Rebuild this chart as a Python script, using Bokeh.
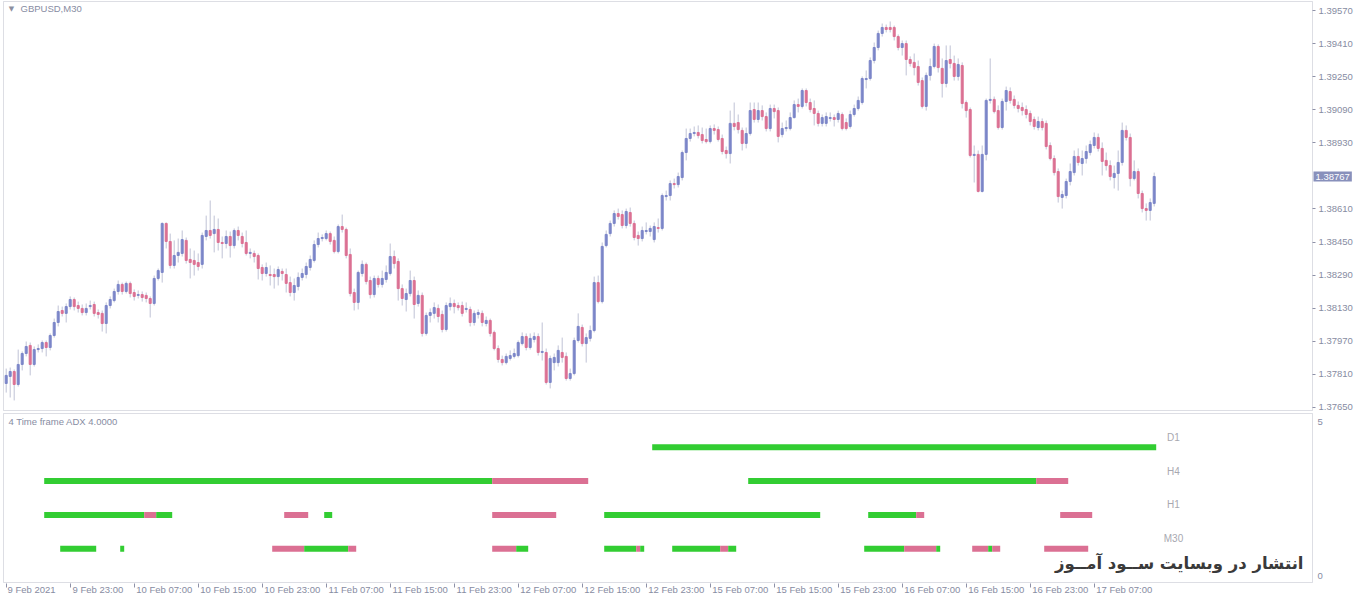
from bokeh.core.properties import value
from bokeh.embed import file_html
from bokeh.layouts import column
from bokeh.models import (BoxAnnotation, ColumnDataSource, FixedTicker, Label,
                          PrintfTickFormatter, Range1d)
from bokeh.plotting import figure
from bokeh.resources import INLINE

symbol = "GBPUSD,M30"
indicator_name = "4 Time frame ADX 4.0000"
watermark = "انتشار در وبسایت ســود آمــوز"

# M30 bars, 9 Feb 15:00 .. 17 Feb 14:30
bar_open = [
    1.37766, 1.37800, 1.37824, 1.37761, 1.37858, 1.37911, 1.37950, 1.37858, 1.37930, 1.37935, 1.37964, 1.37940,
    1.37998, 1.38061, 1.38119, 1.38105, 1.38138, 1.38172, 1.38143, 1.38129, 1.38109, 1.38138, 1.38148, 1.38109,
    1.38105, 1.38056, 1.38143, 1.38167, 1.38211, 1.38245, 1.38211, 1.38250, 1.38206, 1.38192, 1.38196, 1.38192,
    1.38177, 1.38153, 1.38274, 1.38303, 1.38540, 1.38453, 1.38337, 1.38385, 1.38395, 1.38458, 1.38366, 1.38361,
    1.38351, 1.38342, 1.38477, 1.38506, 1.38491, 1.38511, 1.38448, 1.38443, 1.38477, 1.38433, 1.38506, 1.38477,
    1.38448, 1.38395, 1.38395, 1.38385, 1.38327, 1.38298, 1.38293, 1.38293, 1.38283, 1.38308, 1.38293, 1.38254,
    1.38206, 1.38235, 1.38279, 1.38293, 1.38327, 1.38361, 1.38438, 1.38467, 1.38467, 1.38491, 1.38458, 1.38404,
    1.38525, 1.38511, 1.38390, 1.38206, 1.38158, 1.38298, 1.38342, 1.38264, 1.38196, 1.38274, 1.38245, 1.38269,
    1.38298, 1.38380, 1.38356, 1.38225, 1.38172, 1.38201, 1.38264, 1.38153, 1.38192, 1.38008, 1.38095, 1.38105,
    1.38129, 1.38100, 1.38027, 1.38138, 1.38153, 1.38143, 1.38143, 1.38124, 1.38124, 1.38061, 1.38100, 1.38105,
    1.38056, 1.38071, 1.38013, 1.37935, 1.37882, 1.37867, 1.37887, 1.37897, 1.37901, 1.37959, 1.37993, 1.37940,
    1.37979, 1.37993, 1.37916, 1.37916, 1.37771, 1.37867, 1.37867, 1.37916, 1.37897, 1.37790, 1.37814, 1.37974,
    1.38037, 1.37959, 1.37984, 1.38022, 1.38254, 1.38162, 1.38433, 1.38491, 1.38540, 1.38588, 1.38583, 1.38530,
    1.38593, 1.38540, 1.38482, 1.38467, 1.38501, 1.38501, 1.38462, 1.38520, 1.38516, 1.38670, 1.38675, 1.38733,
    1.38728, 1.38762, 1.38883, 1.38951, 1.38975, 1.38980, 1.38970, 1.38946, 1.38936, 1.38999, 1.38994, 1.38951,
    1.38893, 1.38878, 1.39024, 1.39028, 1.38990, 1.38927, 1.38975, 1.39091, 1.39043, 1.39086, 1.39057, 1.38999,
    1.39096, 1.39086, 1.38970, 1.38999, 1.38999, 1.39052, 1.39115, 1.39106, 1.39183, 1.39125, 1.39096, 1.39072,
    1.39024, 1.39024, 1.39048, 1.39052, 1.39043, 1.39067, 1.39028, 1.39009, 1.39067, 1.39096, 1.39125, 1.39236,
    1.39241, 1.39328, 1.39391, 1.39459, 1.39488, 1.39488, 1.39488, 1.39444, 1.39391, 1.39410, 1.39333, 1.39319,
    1.39299, 1.39231, 1.39106, 1.39256, 1.39299, 1.39396, 1.39290, 1.39217, 1.39333, 1.39314, 1.39251, 1.39304,
    1.39125, 1.39091, 1.38869, 1.38874, 1.38695, 1.38874, 1.39135, 1.39140, 1.39086, 1.39004, 1.39130, 1.39178,
    1.39140, 1.39111, 1.39101, 1.39091, 1.39072, 1.39043, 1.39004, 1.39033, 1.39024, 1.38917, 1.38854, 1.38791,
    1.38666, 1.38675, 1.38743, 1.38786, 1.38864, 1.38830, 1.38854, 1.38883, 1.38917, 1.38956, 1.38903, 1.38845,
    1.38820, 1.38762, 1.38782, 1.38835, 1.38990, 1.38956, 1.38757, 1.38791, 1.38685, 1.38612, 1.38603, 1.38637,
]
bar_high = [
    1.37838, 1.37843, 1.37834, 1.37930, 1.37921, 1.37969, 1.37964, 1.37945, 1.37955, 1.37974, 1.37974, 1.38008,
    1.38080, 1.38143, 1.38138, 1.38153, 1.38187, 1.38182, 1.38162, 1.38148, 1.38153, 1.38167, 1.38162, 1.38124,
    1.38119, 1.38158, 1.38187, 1.38225, 1.38264, 1.38254, 1.38259, 1.38259, 1.38221, 1.38216, 1.38211, 1.38206,
    1.38187, 1.38288, 1.38322, 1.38545, 1.38545, 1.38491, 1.38458, 1.38467, 1.38506, 1.38472, 1.38419, 1.38409,
    1.38395, 1.38496, 1.38578, 1.38651, 1.38578, 1.38564, 1.38477, 1.38506, 1.38501, 1.38516, 1.38525, 1.38496,
    1.38506, 1.38419, 1.38409, 1.38395, 1.38342, 1.38351, 1.38337, 1.38322, 1.38332, 1.38322, 1.38322, 1.38283,
    1.38274, 1.38303, 1.38322, 1.38351, 1.38385, 1.38458, 1.38496, 1.38487, 1.38506, 1.38501, 1.38477, 1.38535,
    1.38583, 1.38520, 1.38419, 1.38225, 1.38312, 1.38361, 1.38351, 1.38283, 1.38288, 1.38288, 1.38312, 1.38337,
    1.38443, 1.38409, 1.38371, 1.38245, 1.38225, 1.38312, 1.38283, 1.38216, 1.38206, 1.38109, 1.38129, 1.38158,
    1.38148, 1.38119, 1.38158, 1.38182, 1.38172, 1.38158, 1.38162, 1.38158, 1.38138, 1.38119, 1.38124, 1.38119,
    1.38090, 1.38080, 1.38022, 1.37950, 1.37901, 1.37911, 1.37926, 1.37935, 1.37974, 1.38013, 1.38008, 1.38008,
    1.38013, 1.38008, 1.38061, 1.37935, 1.37901, 1.37911, 1.37950, 1.37988, 1.37916, 1.37838, 1.37988, 1.38105,
    1.38051, 1.38008, 1.38046, 1.38283, 1.38288, 1.38448, 1.38506, 1.38554, 1.38603, 1.38612, 1.38603, 1.38612,
    1.38617, 1.38554, 1.38501, 1.38525, 1.38545, 1.38530, 1.38545, 1.38564, 1.38685, 1.38699, 1.38748, 1.38757,
    1.38786, 1.38893, 1.38999, 1.38999, 1.39009, 1.39014, 1.39004, 1.38999, 1.39014, 1.39019, 1.39009, 1.38970,
    1.38912, 1.39086, 1.39125, 1.39067, 1.39004, 1.39004, 1.39125, 1.39125, 1.39125, 1.39111, 1.39077, 1.39115,
    1.39115, 1.39101, 1.39028, 1.39038, 1.39077, 1.39135, 1.39144, 1.39193, 1.39193, 1.39144, 1.39135, 1.39086,
    1.39067, 1.39077, 1.39077, 1.39067, 1.39086, 1.39077, 1.39048, 1.39086, 1.39115, 1.39154, 1.39251, 1.39280,
    1.39343, 1.39415, 1.39473, 1.39507, 1.39502, 1.39517, 1.39497, 1.39454, 1.39425, 1.39425, 1.39348, 1.39362,
    1.39328, 1.39246, 1.39270, 1.39338, 1.39410, 1.39406, 1.39338, 1.39401, 1.39401, 1.39352, 1.39338, 1.39319,
    1.39135, 1.39101, 1.38917, 1.38893, 1.38917, 1.39144, 1.39338, 1.39154, 1.39111, 1.39144, 1.39202, 1.39198,
    1.39159, 1.39130, 1.39125, 1.39111, 1.39086, 1.39057, 1.39057, 1.39048, 1.39038, 1.38932, 1.38869, 1.38806,
    1.38699, 1.38757, 1.38830, 1.38893, 1.38903, 1.38893, 1.38917, 1.38941, 1.38980, 1.38975, 1.38932, 1.38883,
    1.38845, 1.38820, 1.38893, 1.39028, 1.39014, 1.38975, 1.38845, 1.38806, 1.38699, 1.38637, 1.38661, 1.38786,
]
bar_low = [
    1.37722, 1.37698, 1.37684, 1.37751, 1.37829, 1.37897, 1.37805, 1.37848, 1.37916, 1.37916, 1.37897, 1.37926,
    1.37988, 1.38042, 1.38090, 1.38061, 1.38124, 1.38119, 1.38109, 1.38095, 1.38095, 1.38124, 1.38090, 1.38080,
    1.38017, 1.38008, 1.38129, 1.38158, 1.38196, 1.38196, 1.38201, 1.38182, 1.38167, 1.38177, 1.38162, 1.38158,
    1.38085, 1.38143, 1.38264, 1.38254, 1.38419, 1.38322, 1.38322, 1.38351, 1.38380, 1.38346, 1.38274, 1.38288,
    1.38312, 1.38322, 1.38458, 1.38467, 1.38400, 1.38409, 1.38371, 1.38419, 1.38375, 1.38419, 1.38458, 1.38424,
    1.38385, 1.38371, 1.38351, 1.38269, 1.38264, 1.38283, 1.38240, 1.38225, 1.38240, 1.38264, 1.38206, 1.38187,
    1.38167, 1.38216, 1.38264, 1.38274, 1.38312, 1.38351, 1.38424, 1.38453, 1.38458, 1.38438, 1.38395, 1.38395,
    1.38496, 1.38371, 1.38187, 1.38119, 1.38124, 1.38283, 1.38245, 1.38177, 1.38182, 1.38230, 1.38230, 1.38254,
    1.38288, 1.38322, 1.38167, 1.38143, 1.38114, 1.38187, 1.38080, 1.38138, 1.37993, 1.37998, 1.38061, 1.38080,
    1.38061, 1.38013, 1.38017, 1.38119, 1.38105, 1.38119, 1.38090, 1.38109, 1.38042, 1.38046, 1.38080, 1.38042,
    1.38042, 1.37993, 1.37926, 1.37867, 1.37853, 1.37858, 1.37877, 1.37887, 1.37892, 1.37950, 1.37926, 1.37930,
    1.37964, 1.37901, 1.37877, 1.37761, 1.37742, 1.37829, 1.37848, 1.37867, 1.37780, 1.37780, 1.37805, 1.37964,
    1.37945, 1.37867, 1.37969, 1.38013, 1.38153, 1.38153, 1.38424, 1.38477, 1.38525, 1.38559, 1.38516, 1.38516,
    1.38525, 1.38458, 1.38433, 1.38453, 1.38487, 1.38477, 1.38448, 1.38496, 1.38506, 1.38651, 1.38651, 1.38709,
    1.38714, 1.38748, 1.38845, 1.38936, 1.38961, 1.38951, 1.38927, 1.38927, 1.38927, 1.38970, 1.38936, 1.38874,
    1.38854, 1.38830, 1.38990, 1.38975, 1.38893, 1.38903, 1.38965, 1.39028, 1.39028, 1.39038, 1.38985, 1.38985,
    1.39048, 1.38932, 1.38956, 1.38985, 1.38990, 1.39048, 1.39077, 1.39096, 1.39106, 1.39077, 1.39014, 1.39009,
    1.39009, 1.39009, 1.39033, 1.39009, 1.39028, 1.38990, 1.38990, 1.38999, 1.39057, 1.39086, 1.39115, 1.39193,
    1.39231, 1.39314, 1.39377, 1.39444, 1.39464, 1.39464, 1.39425, 1.39377, 1.39352, 1.39256, 1.39299, 1.39256,
    1.39207, 1.39096, 1.39086, 1.39231, 1.39290, 1.39270, 1.39149, 1.39198, 1.39290, 1.39231, 1.39231, 1.39096,
    1.39052, 1.38859, 1.38738, 1.38690, 1.38690, 1.38845, 1.39120, 1.39072, 1.38994, 1.38994, 1.39086, 1.39120,
    1.39096, 1.39077, 1.39062, 1.39048, 1.39014, 1.38994, 1.38990, 1.38990, 1.38898, 1.38845, 1.38772, 1.38641,
    1.38612, 1.38661, 1.38724, 1.38772, 1.38820, 1.38772, 1.38830, 1.38869, 1.38903, 1.38888, 1.38772, 1.38796,
    1.38748, 1.38709, 1.38699, 1.38820, 1.38941, 1.38719, 1.38748, 1.38661, 1.38593, 1.38554, 1.38554, 1.38622,
]
bar_close = [
    1.37805, 1.37824, 1.37761, 1.37858, 1.37911, 1.37945, 1.37858, 1.37930, 1.37935, 1.37964, 1.37940, 1.37998,
    1.38061, 1.38114, 1.38105, 1.38138, 1.38172, 1.38138, 1.38129, 1.38109, 1.38129, 1.38143, 1.38105, 1.38100,
    1.38056, 1.38143, 1.38172, 1.38211, 1.38245, 1.38211, 1.38250, 1.38201, 1.38187, 1.38196, 1.38182, 1.38177,
    1.38153, 1.38274, 1.38312, 1.38540, 1.38453, 1.38337, 1.38385, 1.38400, 1.38462, 1.38361, 1.38351, 1.38342,
    1.38332, 1.38482, 1.38506, 1.38482, 1.38511, 1.38448, 1.38443, 1.38477, 1.38433, 1.38506, 1.38482, 1.38443,
    1.38395, 1.38400, 1.38380, 1.38322, 1.38298, 1.38327, 1.38288, 1.38283, 1.38317, 1.38298, 1.38250, 1.38206,
    1.38240, 1.38279, 1.38298, 1.38332, 1.38366, 1.38438, 1.38467, 1.38472, 1.38491, 1.38453, 1.38404, 1.38525,
    1.38511, 1.38385, 1.38201, 1.38158, 1.38303, 1.38342, 1.38259, 1.38196, 1.38274, 1.38245, 1.38274, 1.38303,
    1.38380, 1.38346, 1.38225, 1.38177, 1.38201, 1.38264, 1.38148, 1.38192, 1.38008, 1.38095, 1.38109, 1.38133,
    1.38090, 1.38027, 1.38143, 1.38153, 1.38138, 1.38133, 1.38105, 1.38129, 1.38061, 1.38105, 1.38109, 1.38061,
    1.38071, 1.38008, 1.37935, 1.37882, 1.37867, 1.37897, 1.37901, 1.37911, 1.37964, 1.37993, 1.37940, 1.37984,
    1.37993, 1.37916, 1.37921, 1.37771, 1.37887, 1.37892, 1.37926, 1.37892, 1.37790, 1.37814, 1.37974, 1.38042,
    1.37959, 1.37988, 1.38022, 1.38254, 1.38162, 1.38429, 1.38487, 1.38540, 1.38588, 1.38574, 1.38530, 1.38598,
    1.38540, 1.38472, 1.38467, 1.38506, 1.38506, 1.38516, 1.38525, 1.38516, 1.38675, 1.38675, 1.38733, 1.38728,
    1.38767, 1.38883, 1.38951, 1.38975, 1.38980, 1.38965, 1.38941, 1.38936, 1.38999, 1.38990, 1.38946, 1.38888,
    1.38878, 1.39024, 1.39009, 1.38994, 1.38927, 1.38975, 1.39086, 1.39043, 1.39086, 1.39057, 1.38999, 1.39096,
    1.39081, 1.38961, 1.38999, 1.39004, 1.39052, 1.39115, 1.39106, 1.39183, 1.39125, 1.39091, 1.39072, 1.39024,
    1.39052, 1.39057, 1.39052, 1.39043, 1.39072, 1.38999, 1.38999, 1.39067, 1.39096, 1.39135, 1.39241, 1.39241,
    1.39328, 1.39391, 1.39459, 1.39488, 1.39478, 1.39478, 1.39444, 1.39391, 1.39410, 1.39333, 1.39314, 1.39294,
    1.39222, 1.39106, 1.39256, 1.39299, 1.39396, 1.39294, 1.39217, 1.39328, 1.39314, 1.39251, 1.39309, 1.39120,
    1.39086, 1.38869, 1.38874, 1.38695, 1.38874, 1.39135, 1.39140, 1.39081, 1.39004, 1.39130, 1.39183, 1.39135,
    1.39111, 1.39096, 1.39086, 1.39067, 1.39033, 1.39009, 1.39033, 1.39004, 1.38912, 1.38854, 1.38786, 1.38670,
    1.38680, 1.38743, 1.38791, 1.38864, 1.38835, 1.38854, 1.38888, 1.38922, 1.38956, 1.38903, 1.38840, 1.38820,
    1.38767, 1.38782, 1.38835, 1.38990, 1.38956, 1.38757, 1.38791, 1.38685, 1.38612, 1.38603, 1.38641, 1.38767,
]

price_ticks = [1.37650, 1.37810, 1.37970, 1.38130, 1.38290, 1.38450, 1.38610,
               1.38930, 1.39090, 1.39250, 1.39410, 1.39570]

time_tick_bars = [0, 16, 32, 48, 64, 80, 96, 112, 128, 144, 160, 176, 192, 208, 224, 240, 256, 272]
time_tick_labels = ["9 Feb 2021", "9 Feb 23:00", "10 Feb 07:00", "10 Feb 15:00", "10 Feb 23:00",
                    "11 Feb 07:00", "11 Feb 15:00", "11 Feb 23:00", "12 Feb 07:00", "12 Feb 15:00",
                    "12 Feb 23:00", "15 Feb 07:00", "15 Feb 15:00", "15 Feb 23:00", "16 Feb 07:00",
                    "16 Feb 15:00", "16 Feb 23:00", "17 Feb 07:00"]

# ADX state per timeframe: (first bar, last bar, +1 up / -1 down)
adx_frames = ["D1", "H4", "H1", "M30"]
adx_levels = [4, 3, 2, 1]
d1_segments = [(162, 287, 1)]
h4_segments = [(10, 121, 1), (122, 145, -1), (186, 257, 1), (258, 265, -1)]
h1_segments = [(10, 34, 1), (35, 37, -1), (38, 41, 1), (70, 75, -1), (80, 81, 1), (122, 137, -1),
               (150, 203, 1), (216, 227, 1), (228, 229, -1), (264, 271, -1)]
m30_segments = [(14, 22, 1), (29, 29, 1), (67, 74, -1), (75, 85, 1), (86, 87, -1), (122, 127, -1),
                (128, 130, 1), (150, 157, 1), (158, 158, -1), (159, 159, 1), (167, 178, 1),
                (179, 180, -1), (181, 182, 1), (215, 224, 1), (225, 232, -1), (233, 233, 1),
                (242, 245, -1), (246, 246, 1), (247, 248, -1), (260, 270, -1)]

FONT = "Liberation Sans"
TXT = "#878ca2"
FRAME = "#8e91a7"
BULL = "#7b86c8"
BEAR = "#db7093"
WICK = "#bfc2d6"
ADX_UP = "#32cd32"
ADX_DN = "#db7093"

# screen layout (px): 4 px per bar, first bar at x=5.7, chart box x 3..1312
W = 1358
BAR_PX = 4.0
BAR0 = 5.7
PRICE_PX = 33.08 / 0.0016          # px per unit of price
TOP_H = 412
ADX_H = 185
ADX_UNIT = 33.8                     # px per ADX level


def bar_at(px):
    return (px - BAR0) / BAR_PX


def price_at(py):
    # top price tick sits 10 px below the window top
    return price_ticks[-1] - (py - 10) / PRICE_PX


x_range = Range1d(bar_at(0), bar_at(W))
box_left, box_right = bar_at(3), bar_at(1312)

# ---- price panel
src = ColumnDataSource(dict(
    x=list(range(len(bar_close))),
    high=bar_high,
    low=bar_low,
    body_top=[max(o, c) for o, c in zip(bar_open, bar_close)],
    body_bot=[min(o, c) for o, c in zip(bar_open, bar_close)],
    color=[BULL if c >= o else BEAR for o, c in zip(bar_open, bar_close)],
))

p = figure(width=W, height=TOP_H, x_range=x_range, y_range=Range1d(price_at(TOP_H), price_at(0)),
           output_backend="svg", toolbar_location=None, x_axis_location=None,
           y_axis_location="right", min_border_left=0, min_border_right=0,
           min_border_top=0, min_border_bottom=0, outline_line_color=None,
           background_fill_color="white", border_fill_color="white")
p.grid.visible = False
p.add_layout(BoxAnnotation(left=box_left, right=box_right, bottom=price_at(410), top=price_at(1),
                           fill_color=None, line_color=FRAME, line_width=1))

p.segment(x0="x", y0="low", x1="x", y1="high", source=src, line_color=WICK, line_width=1)
p.vbar(x="x", width=0.5, top="body_top", bottom="body_bot", source=src,
       fill_color="color", line_color="color", line_width=1)

ya = p.yaxis[0]
ya.fixed_location = box_right
ya.ticker = FixedTicker(ticks=price_ticks)
ya.formatter = PrintfTickFormatter(format="%.5f")
ya.axis_line_color = None
ya.major_tick_in = 0
ya.major_tick_out = 3
ya.major_tick_line_color = FRAME
ya.minor_tick_line_color = None
ya.major_label_standoff = 3
ya.major_label_text_font = FONT
ya.major_label_text_font_size = "9.5px"
ya.major_label_text_color = TXT

last = bar_close[-1]
p.add_layout(Label(x=box_right, y=last, x_offset=1, text=f"{last:.5f}",
                   text_font=FONT, text_font_size="9.5px", text_color="white",
                   text_baseline="middle", text_align="left", padding=2,
                   background_fill_color="#8890bb"))

p.text(x=[box_left], y=[price_at(1)], text=["\u25bc"], x_offset=8, y_offset=7,
       text_font=value("DejaVu Sans"), text_font_size="7px", text_color="#8c8fa0",
       text_align="center", text_baseline="middle")
p.text(x=[box_left], y=[price_at(1)], text=[symbol], x_offset=17, y_offset=7,
       text_font=value(FONT), text_font_size="9.5px", text_color=TXT,
       text_align="left", text_baseline="middle")

# ---- ADX panel (level 5 at y=413, level 0 at y=582 of the window)
q = figure(width=W, height=ADX_H, x_range=x_range,
           y_range=Range1d(-1 / ADX_UNIT, 5 + 1 / ADX_UNIT),
           output_backend="svg", toolbar_location=None, y_axis_location=None,
           min_border_left=0, min_border_right=0, min_border_top=0, min_border_bottom=14,
           outline_line_color=None, background_fill_color="white", border_fill_color="white")
q.grid.visible = False
q.add_layout(BoxAnnotation(left=box_left, right=box_right, bottom=0, top=5,
                           fill_color=None, line_color=FRAME, line_width=1))

for level, segs in zip(adx_levels, [d1_segments, h4_segments, h1_segments, m30_segments]):
    q.segment(x0=[s - 0.5 for s, e, d in segs], x1=[e + 0.5 for s, e, d in segs],
              y0=[level] * len(segs), y1=[level] * len(segs),
              line_color=[ADX_UP if d > 0 else ADX_DN for s, e, d in segs],
              line_width=6, line_cap="butt")

q.text(x=[bar_at(1173)] * len(adx_frames), y=adx_levels, text=adx_frames, y_offset=-10,
       text_font=value(FONT), text_font_size="10px", text_color="#a8a8b0",
       text_align="center", text_baseline="middle")
q.text(x=[box_left], y=[5], text=[indicator_name], x_offset=5, y_offset=8,
       text_font=value(FONT), text_font_size="9.5px", text_color=TXT,
       text_align="left", text_baseline="middle")
q.text(x=[box_right, box_right], y=[5, 0], text=["5", "0"], x_offset=5, y_offset=[8, -7],
       text_font=value(FONT), text_font_size="9.5px", text_color=TXT,
       text_align="left", text_baseline="middle")
q.add_layout(Label(x=bar_at(1303), y=0.56, text=watermark, text_font="DejaVu Sans",
                   text_font_style="bold", text_font_size="16.5px", text_color="#3a3a3a",
                   text_align="right", text_baseline="middle"))

# time labels sit to the right of their bar, like MT4 does
centers = [round(b + (2 + len(t) * 4.67 / 2) / BAR_PX, 2) for b, t in zip(time_tick_bars, time_tick_labels)]
xa = q.xaxis[0]
xa.ticker = FixedTicker(ticks=centers, minor_ticks=time_tick_bars)
xa.major_label_overrides = {c: t for c, t in zip(centers, time_tick_labels)}
xa.axis_line_color = None
xa.major_tick_line_color = None
xa.major_tick_in = 0
xa.major_tick_out = 0
xa.minor_tick_line_color = FRAME
xa.minor_tick_in = 0
xa.minor_tick_out = 4
xa.major_label_standoff = -4
xa.major_label_text_font = FONT
xa.major_label_text_font_size = "9.5px"
xa.major_label_text_color = TXT

layout = column(p, q, spacing=0)
open("out.html", "w").write(file_html(layout, INLINE))
